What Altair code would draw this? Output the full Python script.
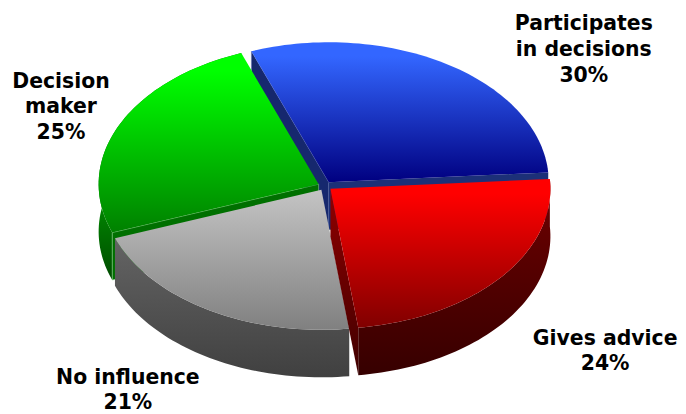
import math
import altair as alt
import pandas as pd

categories = ["Participates in decisions", "Gives advice", "No influence", "Decision maker"]
shares = [29.6, 24.1, 21.4, 24.9]
label_texts = ["Participates\nin decisions\n30%", "Gives advice\n24%", "No influence\n21%", "Decision\nmaker\n25%"]

W, H = 670, 398
CX, CY, RX, RY, DEPTH, EXPLODE, START = 325.0, 186.0, 220.0, 140.0, 47.5, 7.0, -20.6
LABEL_NUDGE = [(140, -44), (110, 64), (-83, 72), (-64, -46)]


def grad(c1, c2, first=0.0):
    return alt.Gradient(gradient="linear", x1=0, x2=0, y1=0, y2=1,
                        stops=[alt.GradientStop(color=c1, offset=first), alt.GradientStop(color=c2, offset=1)])


def rim(apex, a, b, dy=0.0):
    n = max(2, int(abs(b - a) / 1.5))
    out = []
    for i in range(n + 1):
        t = math.radians(a + (b - a) * i / n)
        out.append((apex[0] + RX * math.sin(t), apex[1] - RY * math.cos(t) + dy))
    return out


angles = []
a = START
for s in shares:
    b = a + s / sum(shares) * 360
    angles.append((a, b))
    a = b


def apex_of(i):
    m = math.radians(sum(angles[i]) / 2)
    return (CX + EXPLODE * math.sin(m), CY - EXPLODE * math.cos(m) * RY / RX)


def polygon(points, fill, stroke="transparent", sw=0.0):
    pts = points + [points[0]]
    df = pd.DataFrame({"px": [p[0] for p in pts], "py": [p[1] for p in pts], "i": range(len(pts))})
    return alt.Chart(df).mark_line(fill=fill, stroke=stroke, strokeWidth=sw, interpolate="linear").encode(
        x=alt.X("px:Q", scale=alt.Scale(domain=[8, 8 + W], nice=False, zero=False), axis=None),
        y=alt.Y("py:Q", scale=alt.Scale(domain=[8, 8 + H], reverse=True, nice=False, zero=False), axis=None),
        order=alt.Order("i:Q"),
    )


def top(i):
    ap = apex_of(i)
    return [ap] + rim(ap, *angles[i])


def side(i):
    ap = apex_of(i)
    r = rim(ap, *angles[i])
    return r + [(x, y + DEPTH) for x, y in reversed(r)]


def cut(i, which):
    ap = apex_of(i)
    e = rim(ap, angles[i][which], angles[i][which])[0]
    return [ap, e, (e[0], e[1] + DEPTH), (ap[0], ap[1] + DEPTH)]


BLUE, RED, GRAY, GREEN = 0, 1, 2, 3
layers = [
    polygon(cut(BLUE, 0), "#16286e", "#6f80c0", 0.5),
    polygon(cut(BLUE, 1), "#1c3078"),
    polygon(top(BLUE), grad("#3366ff", "#000080", 0.1)),
    polygon(side(GREEN), grad("#008000", "#004a00", 0.7)),
    polygon(cut(GREEN, 0), "#007000", "#a0e0a0", 0.5),
    polygon(top(GREEN), grad("#00ff00", "#008000", 0.1)),
    polygon(side(GRAY), grad("#646464", "#404040")),
    polygon(top(GRAY), grad("#c4c4c4", "#808080")),
    polygon(cut(RED, 1), grad("#900000", "#400000")),
    polygon(side(RED), grad("#700000", "#360000")),
    polygon(top(RED), grad("#ff0000", "#800000", 0.1)),
]

rows = []
for i, t in enumerate(label_texts):
    m = math.radians(sum(angles[i]) / 2)
    rows.append({
        "px": CX + RX * math.sin(m) + LABEL_NUDGE[i][0],
        "py": CY - RY * math.cos(m) + LABEL_NUDGE[i][1],
        "label": t,
        "category": categories[i],
    })
labels = alt.Chart(pd.DataFrame(rows)).mark_text(
    font="DejaVu Sans", fontSize=20.4, fontWeight="bold", color="black", align="center",
    baseline="middle", lineBreak="\n", lineHeight=25.7,
).encode(
    x=alt.X("px:Q", scale=alt.Scale(domain=[8, 8 + W], nice=False, zero=False), axis=None),
    y=alt.Y("py:Q", scale=alt.Scale(domain=[8, 8 + H], reverse=True, nice=False, zero=False), axis=None),
    text="label:N",
)

chart = alt.layer(*layers, labels).properties(
    width=W, height=H, padding={"left": 0, "top": 0, "right": 0, "bottom": 8},
    autosize=alt.AutoSizeParams(type="none"), background="white"
).configure_view(stroke=None)

chart.save("out.html", embed_options={"renderer": "svg", "actions": False})
